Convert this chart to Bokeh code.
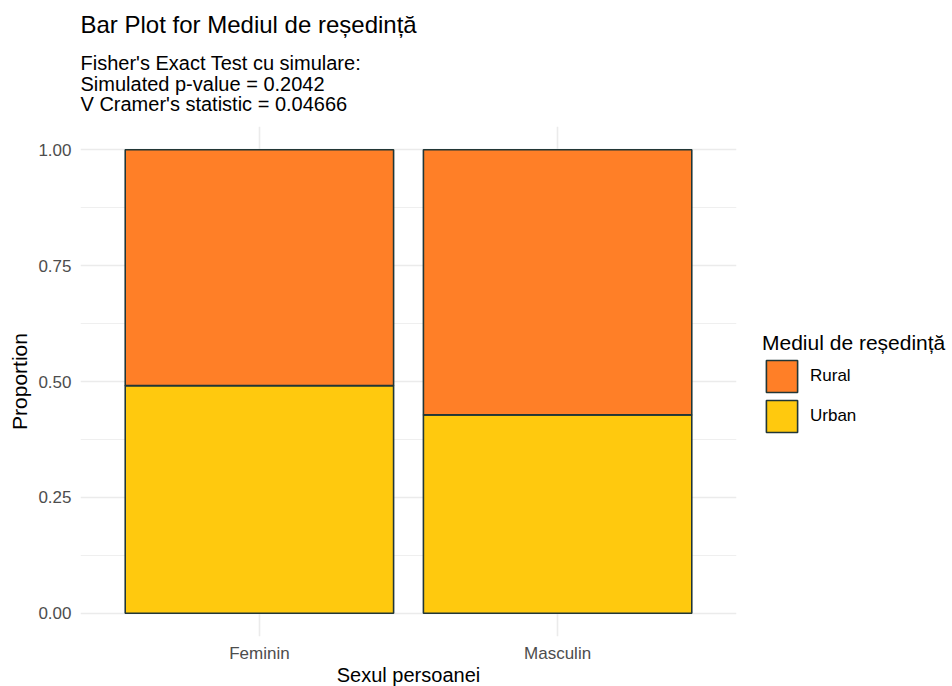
from bokeh.plotting import figure
from bokeh.models import (FactorRange, Range1d, Legend, LegendItem, Title,
                          FixedTicker, NumeralTickFormatter, ColumnDataSource)
from bokeh.embed import file_html
from bokeh.resources import INLINE

# ---- data ----
categories = ["Feminin", "Masculin"]
urban = [0.491, 0.428]
rural = [0.509, 0.572]
levels = ["Rural", "Urban"]
level_colors = ["#FF7F27", "#FFC90E"]
y_ticks = [0.0, 0.25, 0.5, 0.75, 1.0]
y_minor = [0.125, 0.375, 0.625, 0.875]
title_text = "Bar Plot for Mediul de reședință"
subtitle_lines = ["Fisher's Exact Test cu simulare:",
                  "Simulated p-value = 0.2042",
                  "V Cramer's statistic = 0.04666"]
x_title = "Sexul persoanei"
y_title = "Proportion"
legend_title = "Mediul de reședință"

FONT = "Liberation Sans"
FW, FH = 656, 510
L, R, T, B = 80, 216, 126, 50
Y0, Y1 = -0.05, 1.05

source = ColumnDataSource(dict(cat=categories, Urban=urban, Rural=rural))

p = figure(frame_width=FW, frame_height=FH,
           x_range=FactorRange(factors=categories, range_padding=0.1),
           y_range=Range1d(Y0, Y1),
           output_backend="svg", toolbar_location=None,
           min_border_left=L, min_border_right=R,
           min_border_top=T, min_border_bottom=B)
p.outline_line_color = None
p.background_fill_color = "white"
p.border_fill_color = "white"

rs = p.vbar_stack(["Urban", "Rural"], x="cat", width=0.9, source=source,
                  fill_color=[level_colors[1], level_colors[0]],
                  line_color="#213636", line_width=1.6)
r_urban, r_rural = rs

# axes
for ax in (p.xaxis[0], p.yaxis[0]):
    ax.axis_line_color = None
    ax.major_tick_line_color = None
    ax.minor_tick_line_color = None
    ax.major_label_text_font = FONT
    ax.major_label_text_font_size = "17px"
    ax.major_label_text_color = "#4D4D4D"
    ax.axis_label_text_font = FONT
    ax.axis_label_text_font_style = "normal"
    ax.axis_label_text_color = "#000000"

p.yaxis.major_label_standoff = 3
p.yaxis.ticker = FixedTicker(ticks=y_ticks, minor_ticks=y_minor)
p.yaxis.formatter = NumeralTickFormatter(format="0.00")
p.yaxis.axis_label = y_title
p.yaxis.axis_label_text_font_size = "21px"
p.yaxis.axis_label_standoff = 4

p.xaxis.major_label_standoff = 1
p.xaxis.axis_label = x_title
p.xaxis.axis_label_text_font_size = "20px"
p.xaxis.axis_label_standoff = -2

# grid
p.ygrid.grid_line_color = "#EBEBEB"
p.ygrid.grid_line_width = 1.6
p.ygrid.minor_grid_line_color = "#EFEFEF"
p.ygrid.minor_grid_line_width = 1.0
p.xgrid.grid_line_color = "#EBEBEB"
p.xgrid.grid_line_width = 1.6

# title + subtitle (first added sits closest to the frame)
p.title.text = ""
sub = Title(text="\n".join(subtitle_lines), align="left",
            text_font=FONT, text_font_size="20px", text_font_style="normal",
            text_color="#000000", text_line_height=0.95, standoff=22)
p.add_layout(sub, "above")
main = Title(text=title_text, align="left",
             text_font=FONT, text_font_size="24px", text_font_style="normal",
             text_color="#000000", standoff=2)
p.add_layout(main, "above")

# legend
legend = Legend(items=[LegendItem(label=levels[0], renderers=[r_rural]),
                       LegendItem(label=levels[1], renderers=[r_urban])],
                location=(26, 200), title=legend_title,
                title_text_font=FONT, title_text_font_size="21px",
                title_text_font_style="normal", title_text_color="#000000",
                title_standoff=1,
                label_text_font=FONT, label_text_font_size="17px",
                label_text_color="#000000",
                glyph_width=39, glyph_height=40, label_height=40,
                label_standoff=9, spacing=0, padding=0, margin=0,
                border_line_color=None, background_fill_alpha=0)
p.add_layout(legend, "right")

open("out.html", "w").write(file_html(p, INLINE))
